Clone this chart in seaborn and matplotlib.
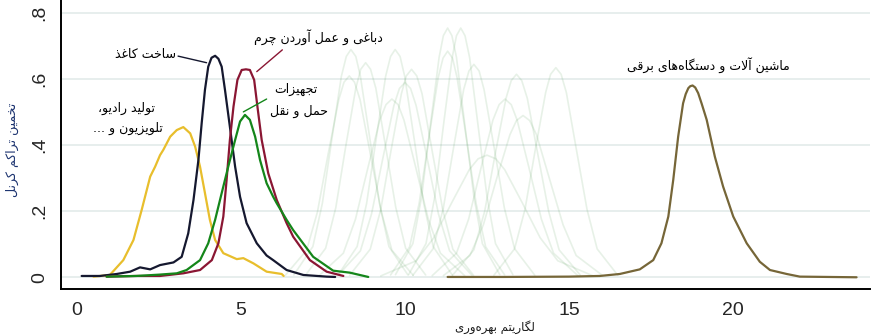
import matplotlib
matplotlib.use("Agg")
import matplotlib.pyplot as plt
import seaborn as sns

# ---------------------------------------------------------------- data
# highlighted industries: kernel density of log productivity
radio_x = [0.50, 1.00, 1.41, 1.72, 1.97, 2.23, 2.38, 2.53, 2.63, 2.84, 3.04, 3.24, 3.45, 3.60,
           3.75, 3.90, 4.05, 4.21, 4.46, 4.87, 5.07, 5.38, 5.78, 6.24, 6.30]
radio_y = [0.002, 0.007, 0.052, 0.113, 0.204, 0.305, 0.335, 0.370, 0.386, 0.426, 0.446, 0.455,
           0.436, 0.396, 0.335, 0.255, 0.174, 0.113, 0.073, 0.055, 0.058, 0.042, 0.017, 0.010, 0.004]

paper_x = [0.14, 0.70, 1.21, 1.62, 1.92, 2.23, 2.53, 2.94, 3.19, 3.39, 3.55, 3.70, 3.80, 3.90,
           4.00, 4.10, 4.21, 4.31, 4.41, 4.51, 4.66, 4.82, 4.97, 5.17, 5.48, 5.78, 5.98, 6.39,
           6.90, 7.61, 7.87]
paper_y = [0.004, 0.004, 0.010, 0.017, 0.030, 0.024, 0.037, 0.045, 0.062, 0.133, 0.234, 0.355,
           0.467, 0.568, 0.638, 0.665, 0.671, 0.662, 0.638, 0.568, 0.456, 0.335, 0.244, 0.164,
           0.103, 0.066, 0.052, 0.022, 0.007, 0.002, 0.001]

leather_x = [0.90, 1.80, 2.53, 3.24, 3.75, 4.11, 4.31, 4.46, 4.56, 4.66, 4.77, 4.89, 5.02, 5.15,
             5.27, 5.40, 5.50, 5.63, 5.83, 6.09, 6.39, 6.59, 7.10, 7.61, 8.12]
leather_y = [0.002, 0.004, 0.004, 0.012, 0.022, 0.052, 0.103, 0.184, 0.295, 0.416, 0.517, 0.598,
             0.628, 0.630, 0.628, 0.598, 0.517, 0.416, 0.315, 0.234, 0.164, 0.123, 0.052, 0.017,
             0.004]

transport_x = [0.90, 1.80, 2.50, 3.04, 3.34, 3.75, 4.00, 4.21, 4.41, 4.61, 4.82, 4.97, 5.12, 5.27,
               5.43, 5.58, 5.78, 5.98, 6.09, 6.39, 6.59, 7.20, 7.81, 8.32, 8.88]
transport_y = [0.002, 0.004, 0.008, 0.012, 0.022, 0.052, 0.103, 0.174, 0.255, 0.335, 0.416, 0.472,
               0.492, 0.477, 0.426, 0.355, 0.285, 0.244, 0.224, 0.174, 0.143, 0.062, 0.020, 0.014,
               0.001]

machinery_x = [11.30, 13.00, 15.00, 15.94, 16.55, 17.16, 17.57, 17.82, 18.03, 18.18, 18.33, 18.48,
               18.56, 18.64, 18.70, 18.77, 18.85, 18.94, 19.05, 19.20, 19.45, 19.70, 20.01, 20.42,
               20.82, 21.13, 21.64, 22.04, 23.77]
machinery_y = [0.001, 0.001, 0.002, 0.004, 0.010, 0.024, 0.052, 0.103, 0.184, 0.295, 0.426, 0.527,
               0.555, 0.573, 0.579, 0.581, 0.575, 0.558, 0.525, 0.477, 0.365, 0.275, 0.184, 0.103,
               0.047, 0.022, 0.010, 0.002, 0.000]

# remaining industries, drawn faintly in the background
other_x = [
    [6.61, 7.19, 7.48, 7.77, 8.06, 8.21, 8.35, 8.50, 8.64, 8.93, 9.22, 9.51, 10.09],
    [6.35, 7.00, 7.33, 7.65, 7.98, 8.14, 8.30, 8.46, 8.63, 8.95, 9.28, 9.60, 10.25],
    [6.97, 7.58, 7.89, 8.19, 8.50, 8.65, 8.80, 8.95, 9.11, 9.41, 9.72, 10.02, 10.63],
    [7.96, 8.54, 8.83, 9.12, 9.41, 9.56, 9.70, 9.85, 9.99, 10.28, 10.57, 10.86, 11.44],
    [7.38, 8.12, 8.49, 8.86, 9.23, 9.42, 9.60, 9.79, 9.97, 10.34, 10.71, 11.08, 11.82],
    [8.31, 8.94, 9.26, 9.57, 9.89, 10.04, 10.20, 10.36, 10.52, 10.83, 11.15, 11.46, 12.09],
    [7.96, 8.64, 8.98, 9.32, 9.66, 9.83, 10.00, 10.17, 10.34, 10.68, 11.02, 11.36, 12.04],
    [9.71, 10.24, 10.51, 10.77, 11.04, 11.17, 11.30, 11.43, 11.57, 11.83, 12.10, 12.36, 12.89],
    [10.11, 10.64, 10.91, 11.17, 11.44, 11.57, 11.70, 11.83, 11.97, 12.23, 12.50, 12.76, 13.29],
    [9.56, 10.14, 10.43, 10.72, 11.01, 11.16, 11.30, 11.45, 11.59, 11.88, 12.17, 12.46, 13.04],
    [10.24, 10.86, 11.17, 11.48, 11.79, 11.95, 12.10, 12.26, 12.41, 12.72, 13.03, 13.34, 13.96],
    [9.26, 10.34, 10.88, 11.42, 11.96, 12.23, 12.50, 12.77, 13.04, 13.58, 14.12, 14.66, 15.74],
    [10.83, 11.57, 11.94, 12.31, 12.68, 12.87, 13.05, 13.24, 13.42, 13.79, 14.16, 14.53, 15.27],
    [11.45, 12.10, 12.43, 12.75, 13.08, 13.24, 13.40, 13.56, 13.73, 14.05, 14.38, 14.70, 15.35],
    [11.17, 11.98, 12.39, 12.79, 13.20, 13.40, 13.60, 13.80, 14.01, 14.41, 14.82, 15.22, 16.03],
    [12.71, 13.34, 13.66, 13.97, 14.29, 14.44, 14.60, 14.76, 14.92, 15.23, 15.55, 15.86, 16.49],
]
other_y = [
    [.007, .093, .224, .419, .609, .669, .690, .669, .609, .419, .224, .093, .007],
    [.006, .082, .198, .370, .538, .591, .610, .591, .538, .370, .198, .082, .006],
    [.007, .088, .211, .395, .573, .630, .650, .630, .573, .395, .211, .088, .007],
    [.007, .093, .224, .419, .609, .669, .690, .669, .609, .419, .224, .093, .007],
    [.005, .073, .176, .328, .476, .523, .540, .523, .476, .328, .176, .073, .005],
    [.006, .085, .205, .382, .556, .610, .630, .610, .556, .382, .205, .085, .006],
    [.006, .080, .192, .358, .520, .572, .590, .572, .520, .358, .192, .080, .006],
    [.008, .102, .245, .458, .666, .732, .755, .732, .666, .458, .245, .102, .008],
    [.008, .102, .245, .458, .666, .732, .755, .732, .666, .458, .245, .102, .008],
    [.007, .092, .223, .416, .604, .664, .685, .664, .604, .416, .223, .092, .007],
    [.006, .087, .210, .392, .569, .625, .645, .625, .569, .392, .210, .087, .006],
    [.004, .050, .120, .225, .326, .359, .370, .359, .326, .225, .120, .050, .004],
    [.005, .073, .176, .328, .476, .523, .540, .523, .476, .328, .176, .073, .005],
    [.006, .083, .200, .373, .542, .596, .615, .596, .542, .373, .200, .083, .006],
    [.005, .066, .159, .297, .432, .475, .490, .475, .432, .297, .159, .066, .005],
    [.006, .086, .206, .385, .560, .615, .635, .615, .560, .385, .206, .086, .006],
]

y_ticks = [0, 0.2, 0.4, 0.6, 0.8]
y_tick_labels = ["0", ".2", ".4", ".6", ".8"]
x_ticks = [0, 5, 10, 15, 20]
x_tick_labels = ["0", "5", "10", "15", "20"]

# ------------------------------------------------- Persian text shaping
# (isolated, final, initial, medial) presentation forms
FORMS = {
    "\u0627": ("\uFE8D", "\uFE8E", None, None),
    "\u0622": ("\uFE81", "\uFE82", None, None),
    "\u0628": ("\uFE8F", "\uFE90", "\uFE91", "\uFE92"),
    "\u062A": ("\uFE95", "\uFE96", "\uFE97", "\uFE98"),
    "\u062C": ("\uFE9D", "\uFE9E", "\uFE9F", "\uFEA0"),
    "\u0686": ("\uFB7A", "\uFB7B", "\uFB7C", "\uFB7D"),
    "\u062D": ("\uFEA1", "\uFEA2", "\uFEA3", "\uFEA4"),
    "\u062E": ("\uFEA5", "\uFEA6", "\uFEA7", "\uFEA8"),
    "\u062F": ("\uFEA9", "\uFEAA", None, None),
    "\u0630": ("\uFEAB", "\uFEAC", None, None),
    "\u0631": ("\uFEAD", "\uFEAE", None, None),
    "\u0632": ("\uFEAF", "\uFEB0", None, None),
    "\u0633": ("\uFEB1", "\uFEB2", "\uFEB3", "\uFEB4"),
    "\u0634": ("\uFEB5", "\uFEB6", "\uFEB7", "\uFEB8"),
    "\u0639": ("\uFEC9", "\uFECA", "\uFECB", "\uFECC"),
    "\u063A": ("\uFECD", "\uFECE", "\uFECF", "\uFED0"),
    "\u0642": ("\uFED5", "\uFED6", "\uFED7", "\uFED8"),
    "\u06A9": ("\uFB8E", "\uFB8F", "\uFB90", "\uFB91"),
    "\u06AF": ("\uFB92", "\uFB93", "\uFB94", "\uFB95"),
    "\u0644": ("\uFEDD", "\uFEDE", "\uFEDF", "\uFEE0"),
    "\u0645": ("\uFEE1", "\uFEE2", "\uFEE3", "\uFEE4"),
    "\u0646": ("\uFEE5", "\uFEE6", "\uFEE7", "\uFEE8"),
    "\u0648": ("\uFEED", "\uFEEE", None, None),
    "\u0647": ("\uFEE9", "\uFEEA", "\uFEEB", "\uFEEC"),
    "\u06CC": ("\uFBFC", "\uFBFD", "\uFBFE", "\uFBFF"),
}
LAM_ALEF = {"\u0627": ("\uFEFB", "\uFEFC"), "\u0622": ("\uFEF5", "\uFEF6")}


def fa(text):
    """Join Persian letters into contextual forms and lay them out right-to-left."""
    chars = list(text)
    out = []
    i = 0
    n = len(chars)
    while i < n:
        c = chars[i]
        if c not in FORMS:
            if c != "\u200c":
                out.append(c)
            i += 1
            continue
        prev_joins = i > 0 and chars[i - 1] in FORMS and FORMS[chars[i - 1]][2] is not None
        if c == "\u0644" and i + 1 < n and chars[i + 1] in LAM_ALEF:
            iso, fin = LAM_ALEF[chars[i + 1]]
            out.append(fin if prev_joins else iso)
            i += 2
            continue
        next_joins = FORMS[c][2] is not None and i + 1 < n and chars[i + 1] in FORMS
        iso, fin, ini, med = FORMS[c]
        if prev_joins and next_joins:
            out.append(med)
        elif prev_joins:
            out.append(fin)
        elif next_joins:
            out.append(ini)
        else:
            out.append(iso)
        i += 1
    return "".join(reversed(out))


# ------------------------------------------------------------- drawing
sns.set_style("white")
plt.rcParams["font.family"] = ["DejaVu Sans"]

fig = plt.figure(figsize=(8.73, 3.36), dpi=100)
W, H = 873, 336
ax = fig.add_axes([61 / W, 1 - 289.3 / H, (870 - 61) / W, 289.3 / H])

for xs, ys in zip(other_x, other_y):
    sns.lineplot(x=xs, y=ys, ax=ax, color="#3f8f3f", alpha=0.12, linewidth=1.2,
                 sort=False, estimator=None, legend=False)

curves = [
    (radio_x, radio_y, "#e8be2c"),
    (paper_x, paper_y, "#15182f"),
    (leather_x, leather_y, "#8a1633"),
    (transport_x, transport_y, "#14861a"),
    (machinery_x, machinery_y, "#766638"),
]
for xs, ys, col in curves:
    sns.lineplot(x=xs, y=ys, ax=ax, color=col, linewidth=1.6, sort=False,
                 estimator=None, legend=False)

ax.set_xlim(-0.49, 24.18)
ax.set_ylim(-0.0364, 0.84)
ax.set_yticks(y_ticks)
ax.set_yticklabels(y_tick_labels, rotation=90, va="center")
ax.set_xticks(x_ticks)
ax.set_xticklabels(x_tick_labels)
ax.tick_params(axis="both", direction="out", length=5.5, width=1.2, color="black",
               labelsize=14, pad=4)
for lab in ax.get_xticklabels() + ax.get_yticklabels():
    lab.set_fontfamily("Liberation Sans")

ax.grid(axis="y", color="#e3ebea", linewidth=1.2)
ax.grid(axis="x", visible=False)
ax.set_axisbelow(True)
for side in ("top", "right"):
    ax.spines[side].set_visible(False)
for side in ("left", "bottom"):
    ax.spines[side].set_color("black")
    ax.spines[side].set_linewidth(1.4)

ax.set_xlabel("")
ax.set_ylabel("")
fig.text(12 / W, 1 - 150 / H, fa("تخمین تراکم کرنل"), rotation=90, ha="center",
         va="center", fontsize=9, color="#1d3470")
fig.text(495 / W, 1 - 327 / H, fa("لگاریتم بهره‌وری"), ha="center", va="center",
         fontsize=8.5, color="#1a1a1a")

label_kw = dict(ha="center", va="center", fontsize=9, color="#000000")
ax.text(2.10, 0.674, fa("ساخت کاغذ"), **label_kw)
ax.text(7.35, 0.728, fa("دباغی و عمل آوردن چرم"), **label_kw)
ax.text(6.68, 0.568, fa("تجهیزات"), **label_kw)
ax.text(6.77, 0.501, fa("حمل و نقل"), **label_kw)
ax.text(1.52, 0.513, fa("تولید رادیو،"), **label_kw)
ax.text(1.55, 0.452, fa("تلویزیون و ..."), **label_kw)
ax.text(19.25, 0.643, fa("ماشین آلات و دستگاه‌های برقی"), **label_kw)

# leader lines from labels to their curves
ax.annotate("", xy=(3.95, 0.650), xytext=(3.08, 0.670),
            arrowprops=dict(arrowstyle="-", color="#15182f", lw=1.0, shrinkA=0, shrinkB=0))
ax.annotate("", xy=(5.48, 0.623), xytext=(6.26, 0.689),
            arrowprops=dict(arrowstyle="-", color="#8a1633", lw=1.0, shrinkA=0, shrinkB=0))
ax.annotate("", xy=(5.07, 0.501), xytext=(5.78, 0.540),
            arrowprops=dict(arrowstyle="-", color="#14861a", lw=1.0, shrinkA=0, shrinkB=0))

fig.savefig("out.png", dpi=100)
